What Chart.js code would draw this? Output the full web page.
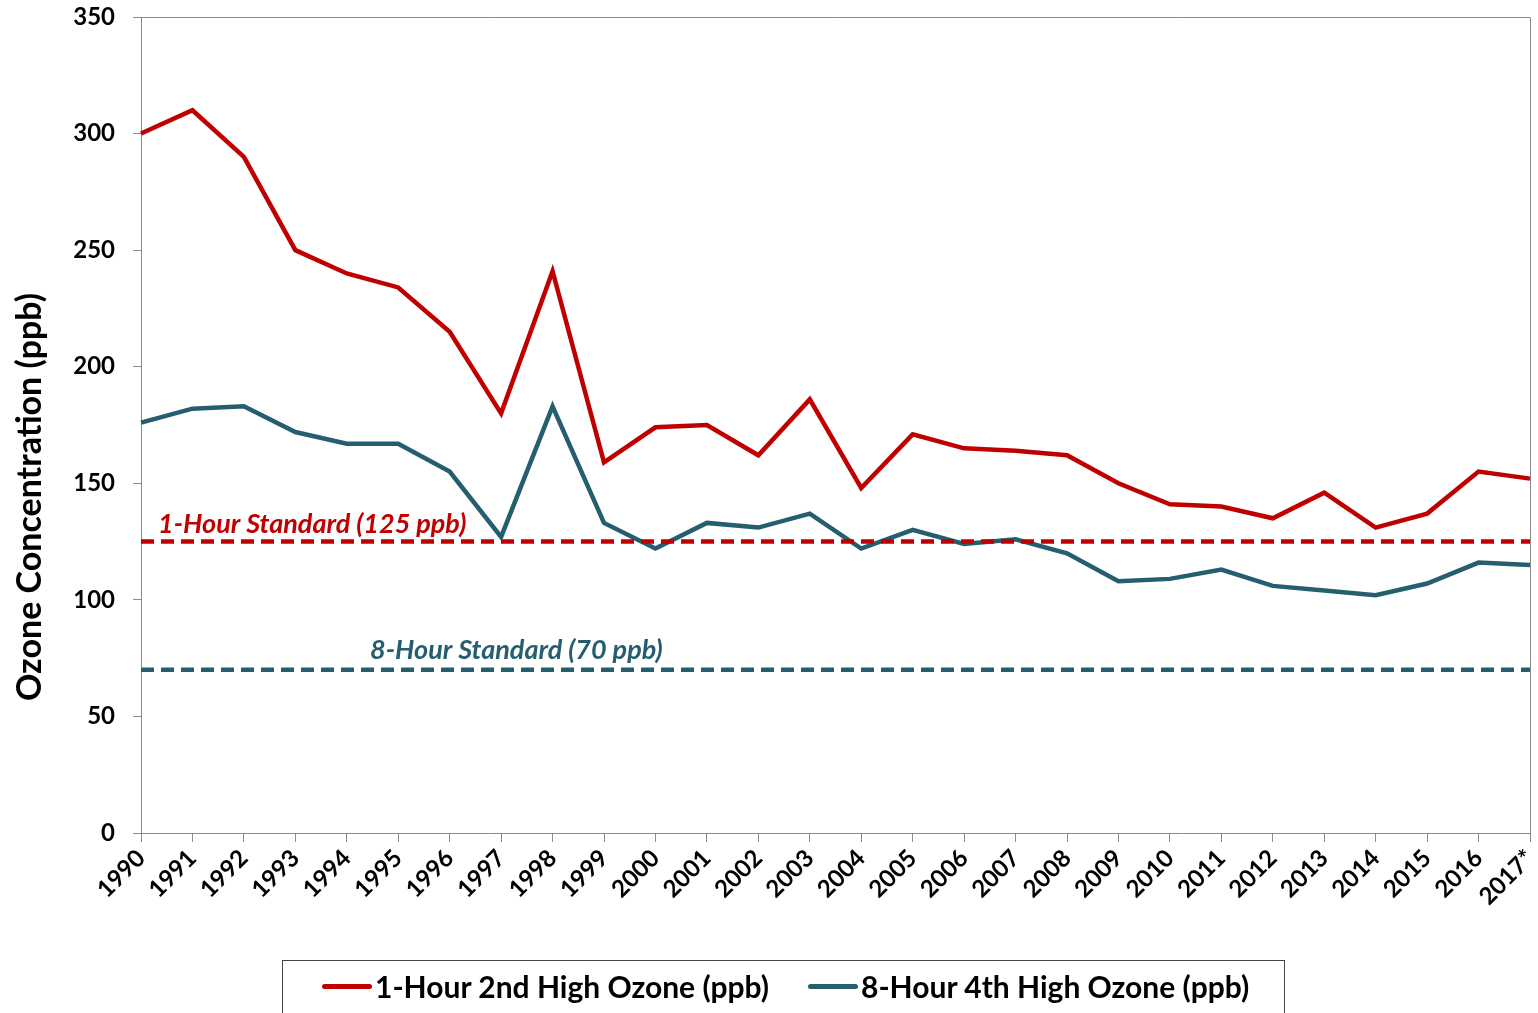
<!DOCTYPE html>
<html>
<head>
<meta charset="utf-8">
<script src="https://cdn.jsdelivr.net/npm/chart.js@4"></script>
<style>
  html, body { margin: 0; padding: 0; background: #fff; }
  #wrap { position: relative; width: 1538px; height: 1013px; overflow: hidden; }
  #legend {
    position: absolute; left: 282px; top: 960px; width: 1003px; height: 70px;
    border: 1px solid #444; box-sizing: border-box;
    font-family: Lato, sans-serif; font-weight: bold; font-size: 30px; color: #000;
  }
  .item { position: absolute; top: 7px; display: flex; align-items: center; white-space: nowrap; }
  .swatch { width: 50px; height: 5px; border-radius: 3px; margin-right: 3px; }
</style>
</head>
<body>
<div id="wrap">
  <canvas id="ozoneChart" width="1538" height="1013"></canvas>
  <div id="legend">
    <div class="item" style="left:39px"><span class="swatch" style="background:#C00000"></span>1-Hour 2nd High Ozone (ppb)</div>
    <div class="item" style="left:525px"><span class="swatch" style="background:#245E6F"></span>8-Hour 4th High Ozone (ppb)</div>
  </div>
</div>
<script>
var years = ["1990","1991","1992","1993","1994","1995","1996","1997","1998","1999",
  "2000","2001","2002","2003","2004","2005","2006","2007","2008","2009",
  "2010","2011","2012","2013","2014","2015","2016","2017*"];

var oneHour2ndHigh = [300, 310, 290, 250, 240, 234, 215, 180, 241, 159,
  174, 175, 162, 186, 148, 171, 165, 164, 162, 150,
  141, 140, 135, 146, 131, 137, 155, 152];

var eightHour4thHigh = [176, 182, 183, 172, 167, 167, 155, 127, 183, 133,
  122, 133, 131, 137, 122, 130, 124, 126, 120, 108,
  109, 113, 106, 104, 102, 107, 116, 115];

var standard1h = 125;
var standard8h = 70;

var RED = "#C00000";
var TEAL = "#245E6F";
var AXIS = "#8a8a8a";

// dashed standard lines, their labels, plot border and y title
var extrasPlugin = {
  id: "extras",
  afterDatasetsDraw: function(chart){
    var ctx = chart.ctx, area = chart.chartArea, y = chart.scales.y;
    ctx.save();
    ctx.strokeStyle = AXIS;
    ctx.lineWidth = 1;
    ctx.beginPath();
    ctx.moveTo(area.left, area.top + 0.5);
    ctx.lineTo(area.right + 0.5, area.top + 0.5);
    ctx.lineTo(area.right + 0.5, area.bottom);
    ctx.stroke();

    var stds = [
      { v: standard1h, color: RED, text: "1-Hour Standard (125 ppb)", dx: 17, dy: 9 },
      { v: standard8h, color: TEAL, text: "8-Hour Standard (70 ppb)", dx: 229, dy: 11 }
    ];
    stds.forEach(function(s){
      var py = y.getPixelForValue(s.v);
      ctx.strokeStyle = s.color;
      ctx.lineWidth = 4.5;
      ctx.setLineDash([13, 7]);
      ctx.beginPath();
      ctx.moveTo(area.left, py);
      ctx.lineTo(area.right, py);
      ctx.stroke();
      ctx.setLineDash([]);
      ctx.fillStyle = s.color;
      ctx.font = "italic bold 27px Lato, sans-serif";
      ctx.textBaseline = "alphabetic";
      ctx.textAlign = "left";
      ctx.fillText(s.text, area.left + s.dx, py - s.dy);
    });

    ctx.translate(30, 497);
    ctx.rotate(-Math.PI / 2);
    ctx.fillStyle = "#000";
    ctx.font = "bold 34px Lato, sans-serif";
    ctx.textAlign = "center";
    ctx.textBaseline = "middle";
    ctx.fillText("Ozone Concentration (ppb)", 0, 0);
    ctx.restore();
  }
};

var ctx = document.getElementById("ozoneChart").getContext("2d");
var ozoneChart = new Chart(ctx, {
  type: "line",
  data: {
    labels: years,
    datasets: [{
      label: "1-Hour 2nd High Ozone (ppb)",
      data: oneHour2ndHigh,
      borderColor: RED,
      backgroundColor: RED,
      borderWidth: 4.5,
      pointRadius: 0,
      tension: 0
    }, {
      label: "8-Hour 4th High Ozone (ppb)",
      data: eightHour4thHigh,
      borderColor: TEAL,
      backgroundColor: TEAL,
      borderWidth: 4.5,
      pointRadius: 0,
      tension: 0
    }]
  },
  options: {
    responsive: false,
    animation: false,
    layout: { padding: { top: 17, right: 8, left: 0, bottom: 0 } },
    plugins: {
      legend: { display: false },
      tooltip: { enabled: false }
    },
    scales: {
      x: {
        offset: false,
        grid: { drawOnChartArea: false, drawTicks: true, tickLength: 9, color: AXIS, offset: false },
        border: { color: AXIS, width: 1 },
        ticks: {
          autoSkip: false, maxRotation: 45, minRotation: 45, padding: 2,
          color: "#000", font: { family: "Lato, sans-serif", weight: "bold", size: 24 }
        },
        afterFit: function(scale){ scale.height = 180; scale.paddingLeft = 0; scale.paddingRight = 0; }
      },
      y: {
        min: 0, max: 350,
        grid: { drawOnChartArea: false, drawTicks: true, tickLength: 8, color: AXIS },
        border: { color: AXIS, width: 1 },
        ticks: {
          stepSize: 50, padding: 18, color: "#000",
          font: { family: "Lato, sans-serif", weight: "bold", size: 24 }
        },
        afterFit: function(scale){ scale.width = 141; scale.paddingTop = 0; scale.paddingBottom = 0; }
      }
    }
  },
  plugins: [extrasPlugin]
});
</script>
</body>
</html>
